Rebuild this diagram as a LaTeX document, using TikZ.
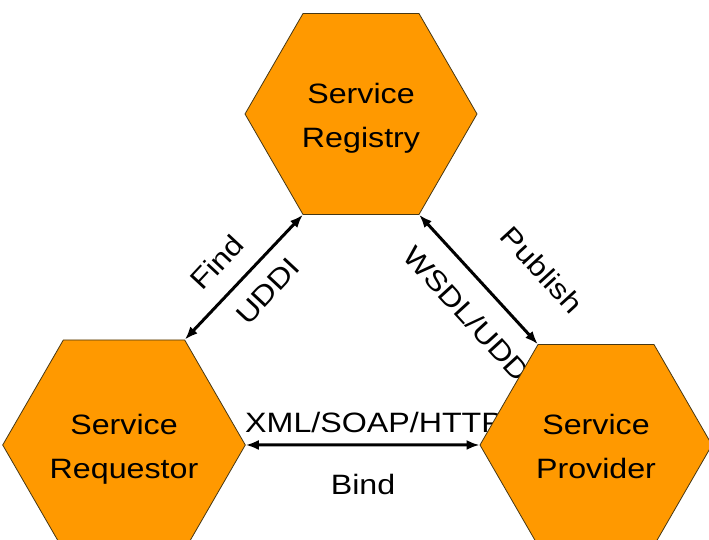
\documentclass[tikz,border=0pt]{standalone}
\usepackage{fontspec}
\setmainfont[FakeStretch=1.15]{Liberation Sans}
\usetikzlibrary{shapes.geometric,arrows.meta,backgrounds}
\definecolor{hexfill}{RGB}{255,153,0}
\definecolor{hexline}{RGB}{70,55,20}
% two centred lines, padded so the text sits a little below the centre
\newcommand{\hexlines}[2]{\rule{0pt}{30pt}#1\\#2\rule[-6pt]{0pt}{0pt}}

\begin{document}
\begin{tikzpicture}[x=1pt,y=1pt,
  hexagon/.style={regular polygon, regular polygon sides=6, minimum size=232pt,
    inner sep=0pt, fill=hexfill, draw=hexline, line width=0.8pt, align=center,
    font=\fontsize{28}{44}\selectfont},
  link/.style={line width=3pt, {Latex[length=13pt,width=10pt]}-{Latex[length=13pt,width=10pt]}},
  tag/.style={font=\fontsize{28}{34}\selectfont, inner sep=0pt}]
\useasboundingbox (0,0) rectangle (709,540);
\clip (0,0) rectangle (709,540);

% the three roles
\node[hexagon] (registry)  at (361,426) {\hexlines{Service}{Registry}};
\node[hexagon] (requestor) at (124,95)  {\hexlines{Service}{Requestor}};
\node[hexagon] (provider)  at (596,95)  {\hexlines{Service}{Provider}};

% interactions, kept behind the hexagons
\begin{pgfonlayer}{background}
  \draw[link] (requestor.60) -- (registry.240);
  \draw[link] (registry.300) -- (provider.120);
  \draw[link] (requestor.0) -- (provider.180);

  \node[tag, rotate=47]    (find)    at (217,278) {Find};
  \node[tag, rotate=47]    (uddi)    at (268,249) {UDDI};
  \node[tag, rotate=-47.5] (publish) at (542,270) {Publish};
  \node[tag, rotate=-47.5] (wsdl)    at (470,223) {WSDL/UDDI};
  \node[tag, anchor=base west] (xml)  at (245,107) {XML/SOAP/HTTP};
  \node[tag, anchor=base]      (bind) at (363,45)  {Bind};
\end{pgfonlayer}
\end{tikzpicture}
\end{document}
